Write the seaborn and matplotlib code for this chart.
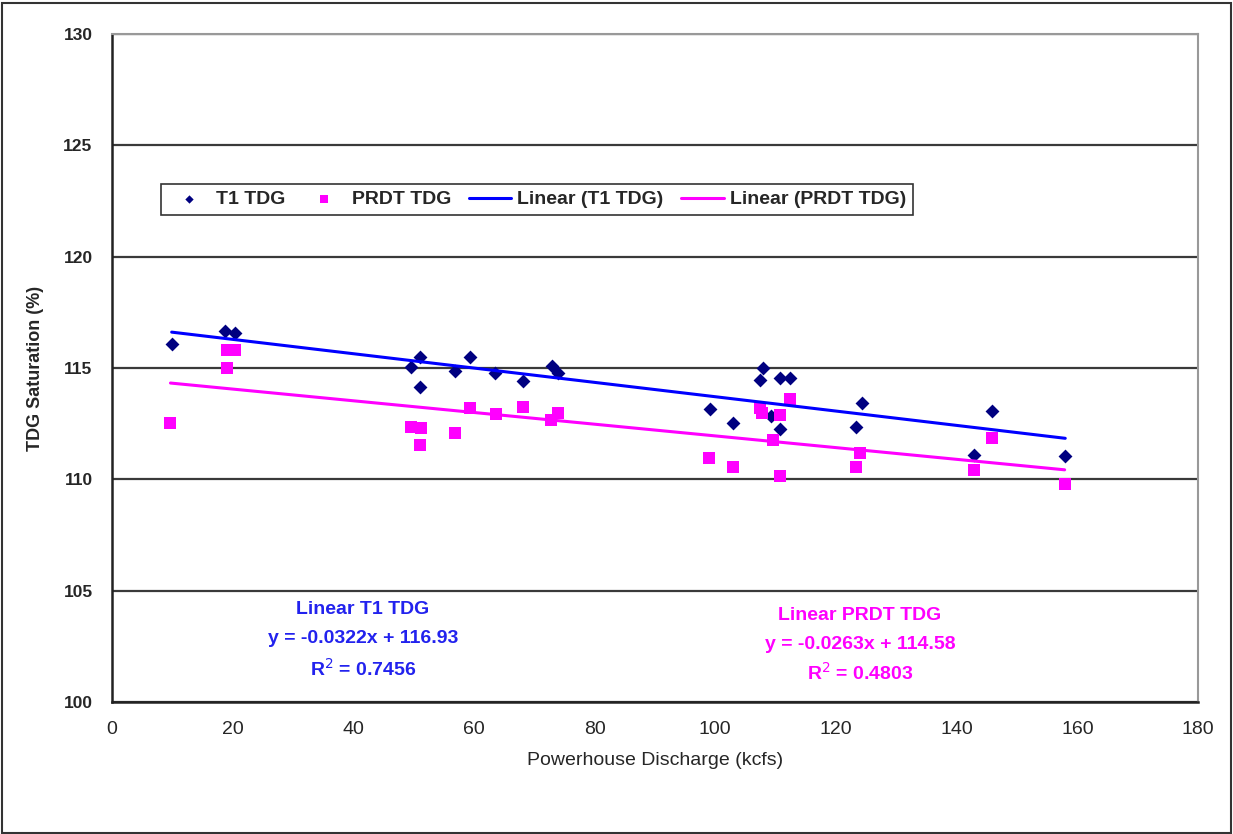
import numpy as np
import pandas as pd
import seaborn as sns
import matplotlib.pyplot as plt
from matplotlib.patches import Rectangle

# T1 TDG (diamonds)
t1_x = [9.9, 18.7, 20.4, 51.0, 49.6, 51.0, 56.9, 59.3, 63.5, 68.1, 72.9, 74.0,
        99.1, 103.0, 107.9, 107.4, 110.7, 112.4, 109.3, 110.7, 124.3, 123.4,
        145.8, 142.9, 158.0]
t1_y = [116.08, 116.68, 116.59, 115.51, 115.06, 114.16, 114.88, 115.51, 114.76,
        114.43, 115.09, 114.76, 113.16, 112.55, 114.99, 114.46, 114.57, 114.57,
        112.86, 112.26, 113.44, 112.37, 113.07, 111.08, 111.05]

# PRDT TDG (squares)
prdt_x = [9.7, 19.0, 20.4, 19.0, 49.6, 51.2, 51.0, 56.9, 59.3, 63.6, 68.1, 72.8,
          74.0, 99.0, 102.9, 107.4, 107.7, 110.8, 112.4, 109.5, 110.7, 124.0,
          123.3, 145.8, 142.9, 157.9]
prdt_y = [112.55, 115.81, 115.81, 114.99, 112.37, 112.29, 111.54, 112.07, 113.19,
          112.94, 113.24, 112.67, 112.97, 110.95, 110.57, 113.19, 112.97, 112.89,
          113.60, 111.77, 110.17, 111.20, 110.54, 111.85, 110.42, 109.78]

# trendline coefficients as printed on the chart
t1_slope, t1_icpt, t1_r2 = -0.0322, 116.93, 0.7456
prdt_slope, prdt_icpt, prdt_r2 = -0.0263, 114.58, 0.4803

sns.set_style('white')
plt.rcParams['font.family'] = ['Liberation Sans Narrow', 'Liberation Sans', 'DejaVu Sans']

fig = plt.figure(figsize=(12.33, 8.34), dpi=100)
ax = fig.add_axes([0.0908, 0.1583, 0.8808, 0.8009])

# outer border of the picture
fig.patches.append(Rectangle((0.002, 0.001), 0.996, 0.996, transform=fig.transFigure,
                             fill=False, edgecolor='#333333', linewidth=1.5))

navy = '#000080'
blue = '#0000FF'
mag = '#FF00FF'

sns.scatterplot(x=t1_x, y=t1_y, marker='D', color=navy, s=50, linewidth=0,
                ax=ax, label='T1 TDG', zorder=3)
sns.scatterplot(x=prdt_x, y=prdt_y, marker='s', color=mag, s=72, linewidth=0,
                ax=ax, label='PRDT TDG', zorder=3)

t1_fit = pd.DataFrame({'x': [min(t1_x), max(t1_x)]})
t1_fit['y'] = t1_slope * t1_fit['x'] + t1_icpt
prdt_fit = pd.DataFrame({'x': [min(prdt_x), max(prdt_x)]})
prdt_fit['y'] = prdt_slope * prdt_fit['x'] + prdt_icpt

sns.lineplot(data=t1_fit, x='x', y='y', color=blue, linewidth=2.2, ax=ax,
             label='Linear (T1 TDG)', zorder=4)
sns.lineplot(data=prdt_fit, x='x', y='y', color=mag, linewidth=2.2, ax=ax,
             label='Linear (PRDT TDG)', zorder=4)

ax.set_xlim(0, 180)
ax.set_ylim(100, 130)
ax.set_xticks(range(0, 181, 20))
ax.set_yticks(range(100, 131, 5))
ax.yaxis.grid(True, color='#3a3a3a', linewidth=1.6)
ax.set_axisbelow(True)

for side in ['left', 'bottom']:
    ax.spines[side].set_color('#222222')
    ax.spines[side].set_linewidth(1.8)
for side in ['top', 'right']:
    ax.spines[side].set_color('#999999')
    ax.spines[side].set_linewidth(1.5)

ax.tick_params(axis='both', direction='out', length=6, width=1.2, color='#222222')
ax.tick_params(axis='x', labelsize=14, pad=8)
ax.tick_params(axis='y', labelsize=12.5, pad=8)
for lab in ax.get_yticklabels():
    lab.set_fontfamily(['Liberation Sans', 'DejaVu Sans'])
    lab.set_fontweight('bold')

ax.set_xlabel('Powerhouse Discharge (kcfs)', fontsize=14, labelpad=10)
ax.set_ylabel('TDG Saturation (%)', fontsize=13, fontweight='bold', labelpad=14)

leg = ax.legend(loc='upper left', bbox_to_anchor=(0.036, 0.79), ncol=4,
                fontsize=14, frameon=True, fancybox=False, handlelength=2.2,
                columnspacing=0.9, handletextpad=0.3, borderpad=0.35,
                markerscale=0.6)
leg.get_frame().set_edgecolor('black')
leg.get_frame().set_linewidth(1.2)
for txt in leg.get_texts():
    txt.set_fontweight('bold')

ax.text(41.6, 104.14, 'Linear T1 TDG', color='#2222EE', fontsize=14,
        fontweight='bold', ha='center', va='center')
ax.text(41.6, 102.85, f'y = {t1_slope}x + {t1_icpt}', color='#2222EE',
        fontsize=14, fontweight='bold', ha='center', va='center')
ax.text(41.6, 101.5, f'R$^2$ = {t1_r2}', color='#2222EE', fontsize=14,
        fontweight='bold', ha='center', va='center')

ax.text(124.0, 103.9, 'Linear PRDT TDG', color=mag, fontsize=14,
        fontweight='bold', ha='center', va='center')
ax.text(124.0, 102.6, f'y = {prdt_slope}x + {prdt_icpt}', color=mag,
        fontsize=14, fontweight='bold', ha='center', va='center')
ax.text(124.0, 101.3, f'R$^2$ = {prdt_r2}', color=mag, fontsize=14,
        fontweight='bold', ha='center', va='center')

fig.savefig('out.png', dpi=100)
